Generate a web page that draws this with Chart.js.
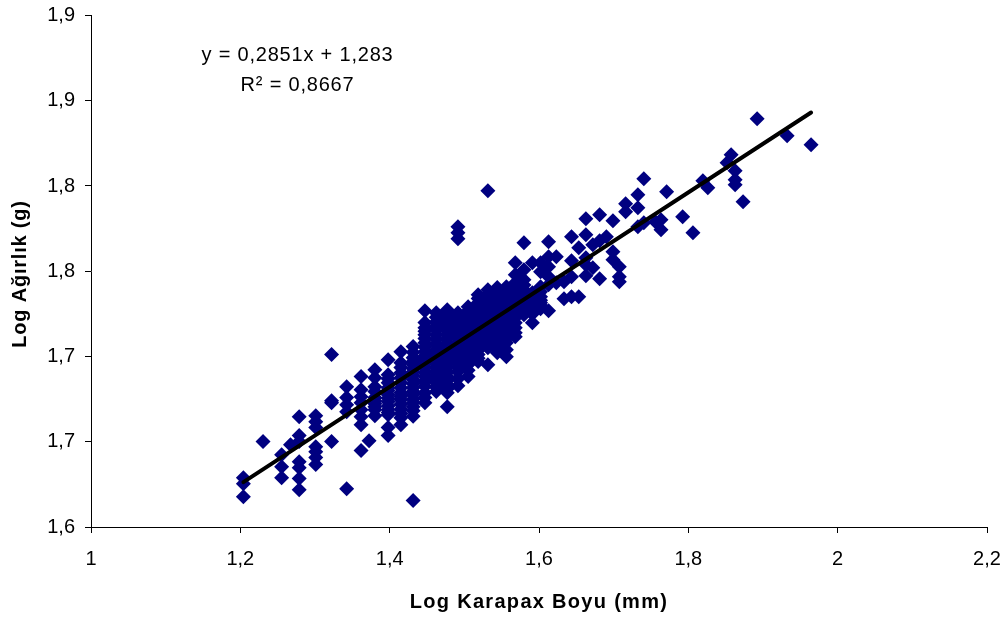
<!DOCTYPE html>
<html>
<head>
<meta charset="utf-8">
<script src="https://cdn.jsdelivr.net/npm/chart.js@4"></script>
<style>
  html, body { margin: 0; padding: 0; background: #fff; }
  #wrap { width: 1008px; height: 623px; }
</style>
</head>
<body>
<div id="wrap"><canvas id="myChart" width="1008" height="623"></canvas></div>
<script>
// Log karapax boyu: every measured length class
const logBoy = [
  1.2041, 1.2304, 1.2553, 1.2672, 1.2788, 1.3010, 1.3222, 1.3424, 1.3617, 1.3724,
  1.3802, 1.3979, 1.4150, 1.4314, 1.4472, 1.4624, 1.4771, 1.4914, 1.5051, 1.5185,
  1.5315, 1.5441, 1.5563, 1.5682, 1.5798, 1.5911, 1.6021, 1.6128, 1.6232, 1.6335,
  1.6435, 1.6532, 1.6628, 1.6721, 1.6812, 1.6902, 1.6990, 1.7076, 1.7160, 1.7324,
  1.7404, 1.7559, 1.7634, 1.7709, 1.7924, 1.8062, 1.8195, 1.8261, 1.8519, 1.8573,
  1.8627, 1.8733, 1.8921, 1.9323, 1.9644
];

// Log agirlik values, one list for each logBoy entry
const logAgirlik = [
  [1.6289, 1.6254, 1.6178],
  [1.6501],
  [1.6424, 1.6354, 1.6289],
  [1.6483],
  [1.6647, 1.6536, 1.6501, 1.6383, 1.6348, 1.6284, 1.6219],
  [1.6653, 1.6618, 1.6583, 1.6471, 1.6442, 1.6407, 1.6366],
  [1.7011, 1.6741, 1.6729, 1.6501],
  [1.6823, 1.6759, 1.6717, 1.6676, 1.6225],
  [1.6882, 1.6805, 1.6764, 1.6729, 1.6688, 1.6647, 1.66, 1.6448],
  [1.6506],
  [1.6923, 1.6875, 1.6823, 1.6794, 1.6759, 1.6741, 1.6723, 1.6705, 1.6688, 1.6653],
  [1.6981, 1.6893, 1.687, 1.6846, 1.6817, 1.68, 1.6776, 1.6755, 1.6735, 1.671, 1.6688, 1.6672, 1.6659, 1.6583, 1.6536],
  [1.7028, 1.6964, 1.6935, 1.6905, 1.6875, 1.6846, 1.6817, 1.6788, 1.6767, 1.6747, 1.672, 1.669, 1.6665, 1.6641, 1.66],
  [1.7058, 1.7025, 1.6993, 1.697, 1.6952, 1.693, 1.6911, 1.6888, 1.6864, 1.684, 1.6817, 1.6795, 1.6776, 1.675, 1.6729, 1.6705, 1.6682, 1.665, 1.6155],
  [1.7269, 1.72, 1.7169, 1.7148, 1.7128, 1.7105, 1.7081, 1.7055, 1.7028, 1.7005, 1.6981, 1.6958, 1.6934, 1.6908, 1.6882, 1.6855, 1.6825, 1.6788, 1.676, 1.6729],
  [1.7257, 1.723, 1.7204, 1.718, 1.7157, 1.7128, 1.7099, 1.707, 1.704, 1.7015, 1.6993, 1.6966, 1.694, 1.6916, 1.6893, 1.687, 1.6846, 1.682, 1.6794],
  [1.7274, 1.7245, 1.7216, 1.7192, 1.7169, 1.7148, 1.7128, 1.7105, 1.7081, 1.7055, 1.7028, 1.7005, 1.6981, 1.6958, 1.6934, 1.6908, 1.6882, 1.6858, 1.6835, 1.681, 1.6788, 1.6706],
  [1.7761, 1.7726, 1.7691, 1.7257, 1.723, 1.7204, 1.718, 1.7157, 1.7133, 1.711, 1.7084, 1.7058, 1.7035, 1.7011, 1.6988, 1.6964, 1.6938, 1.6911, 1.687, 1.6829],
  [1.7292, 1.7268, 1.7245, 1.7222, 1.7198, 1.7172, 1.7145, 1.7122, 1.7099, 1.7075, 1.7052, 1.7025, 1.6999, 1.6975, 1.6952, 1.692, 1.6882],
  [1.7362, 1.734, 1.7315, 1.7286, 1.7257, 1.723, 1.7204, 1.718, 1.7157, 1.7133, 1.711, 1.7084, 1.7058, 1.7035, 1.7011, 1.699, 1.697],
  [1.7972, 1.7392, 1.7368, 1.7345, 1.7318, 1.7292, 1.7268, 1.7245, 1.7222, 1.7198, 1.7172, 1.7145, 1.7122, 1.7099, 1.7075, 1.7052, 1.6952],
  [1.7404, 1.7378, 1.7351, 1.7328, 1.7304, 1.728, 1.7257, 1.723, 1.7204, 1.718, 1.7157, 1.7133, 1.711, 1.7084, 1.7058, 1.704, 1.7022],
  [1.7409, 1.737, 1.7333, 1.7303, 1.7274, 1.725, 1.7228, 1.72, 1.7175, 1.715, 1.7128, 1.7105, 1.7081, 1.704, 1.6999],
  [1.755, 1.748, 1.7433, 1.7405, 1.738, 1.735, 1.7321, 1.7298, 1.7274, 1.725, 1.7228, 1.7198, 1.7169, 1.714, 1.7116],
  [1.7667, 1.7509, 1.745, 1.742, 1.7392, 1.7362, 1.7333, 1.731, 1.7286, 1.7265, 1.7245],
  [1.755, 1.7374, 1.735, 1.7321, 1.729, 1.725, 1.7198],
  [1.755, 1.7497, 1.7409, 1.738, 1.7351, 1.733, 1.7315, 1.73, 1.728],
  [1.7673, 1.7585, 1.7527, 1.7468, 1.7421, 1.7269],
  [1.7585, 1.7433],
  [1.7439, 1.7339],
  [1.7703, 1.7562, 1.7468, 1.7351],
  [1.7638, 1.7351],
  [1.7808, 1.7714, 1.7579, 1.7538, 1.7474],
  [1.7656, 1.7521],
  [1.7831, 1.7679, 1.7456],
  [1.7703],
  [1.7796, 1.7615, 1.7568],
  [1.7527, 1.7468, 1.7439],
  [1.7896, 1.7849],
  [1.7949, 1.7873, 1.7761],
  [1.8043, 1.7785],
  [1.779],
  [1.7802, 1.7743],
  [1.7966],
  [1.782],
  [1.7726],
  [1.8031],
  [1.799],
  [1.8136],
  [1.8183],
  [1.8089, 1.8037, 1.8007],
  [1.7908],
  [1.8394],
  [1.8295],
  [1.8242]
];

// Trend line ends
const trendBoy = [1.2041, 1.9644];
const trendAgirlik = [1.6263, 1.8431];

const xTickLabels = ['1', '1,2', '1,4', '1,6', '1,8', '2', '2,2'];
const yTickLabels = ['1,6', '1,7', '1,7', '1,8', '1,8', '1,9', '1,9'];

const equationLines = ['y = 0,2851x + 1,283', 'R² = 0,8667'];
const xTitle = 'Log Karapax Boyu (mm)';
const yTitle = 'Log Ağırlık (g)';

let points = [];
logBoy.forEach((x, i) => {
    logAgirlik[i].forEach(y => points.push({ x: x, y: y }));
});

let trend = trendBoy.map((x, i) => ({ x: x, y: trendAgirlik[i] }));

const FONT = '"Liberation Sans", Arial, sans-serif';

// Equation and axis titles need letter spacing, so they are drawn here
const textPlugin = {
    id: 'chartText',
    afterDraw(c) {
        const ctx = c.ctx;
        ctx.save();
        ctx.fillStyle = '#000';
        ctx.textAlign = 'center';
        ctx.textBaseline = 'alphabetic';

        ctx.font = '20px ' + FONT;
        ctx.letterSpacing = '0.8px';
        ctx.fillText(equationLines[0], 297.5, 61);
        ctx.fillText(equationLines[1], 297.5, 91);

        ctx.font = 'bold 20px ' + FONT;
        ctx.letterSpacing = '1.3px';
        ctx.fillText(xTitle, 539, 608);

        ctx.letterSpacing = '0.8px';
        ctx.translate(26, 274);
        ctx.rotate(-Math.PI / 2);
        ctx.fillText(yTitle, 0, 0);
        ctx.restore();
    }
};

const ctx = document.getElementById('myChart').getContext('2d');

new Chart(ctx, {
    type: 'scatter',
    data: {
        datasets: [
            {
                label: 'Trend',
                data: trend,
                showLine: true,
                borderColor: '#000',
                borderWidth: 4,
                borderCapStyle: 'round',
                pointRadius: 0,
                order: 0
            },
            {
                label: 'Log Ağırlık',
                data: points,
                pointStyle: 'rectRot',
                pointRadius: 7.5,
                pointBorderWidth: 0,
                backgroundColor: '#000080',
                order: 1
            }
        ]
    },
    options: {
        responsive: false,
        animation: false,
        layout: { padding: { top: 15.5, right: 21, left: 0, bottom: 0 } },
        plugins: {
            legend: { display: false },
            tooltip: { enabled: false }
        },
        scales: {
            x: {
                type: 'linear',
                min: 1,
                max: 2.2,
                afterBuildTicks(s) {
                    s.ticks = xTickLabels.map((_, i) => ({ value: 1 + i * 0.2 }));
                },
                afterFit(s) {
                    s.height = 96;
                    s.paddingLeft = 0;
                    s.paddingRight = 0;
                },
                grid: { drawOnChartArea: false, color: '#000', tickLength: 6 },
                border: { color: '#000', width: 1 },
                ticks: {
                    color: '#000',
                    font: { family: FONT, size: 20 },
                    padding: 14,
                    maxRotation: 0,
                    callback: (v, i) => xTickLabels[i]
                }
            },
            y: {
                type: 'linear',
                min: 1.6,
                max: 1.9,
                afterBuildTicks(s) {
                    s.ticks = yTickLabels.map((_, i) => ({ value: 1.6 + i * 0.05 }));
                },
                afterFit(s) {
                    s.width = 91;
                    s.paddingTop = 0;
                    s.paddingBottom = 0;
                },
                grid: { drawOnChartArea: false, color: '#000', tickLength: 6 },
                border: { color: '#000', width: 1 },
                ticks: {
                    color: '#000',
                    font: { family: FONT, size: 20 },
                    padding: 10,
                    callback: (v, i) => yTickLabels[i]
                }
            }
        }
    },
    plugins: [textPlugin]
});
</script>
</body>
</html>
